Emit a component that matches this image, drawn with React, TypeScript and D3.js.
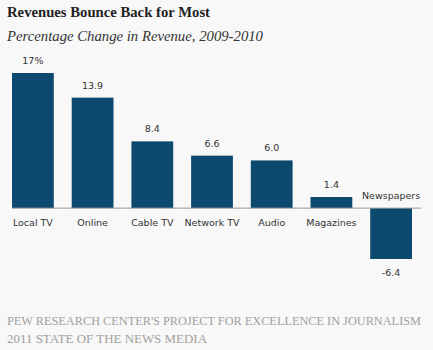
import { useEffect, useRef } from 'react';
import * as d3 from 'd3';

const categories = ['Local TV', 'Online', 'Cable TV', 'Network TV', 'Audio', 'Magazines', 'Newspapers'];
const values = [17, 13.9, 8.4, 6.6, 6.0, 1.4, -6.4];
const valueLabels = ['17%', '13.9', '8.4', '6.6', '6.0', '1.4', '-6.4'];

const width = 433;
const height = 350;

export default function App() {
  const svgRef = useRef<SVGSVGElement>(null);

  useEffect(() => {
    const svg = d3.select(svgRef.current);
    svg.selectAll('*').remove();

    svg.append('rect').attr('width', width).attr('height', height).attr('fill', '#f8f8f8');

    // titulos
    svg.append('text')
      .attr('x', 7).attr('y', 17)
      .attr('font-family', 'Liberation Serif, serif')
      .attr('font-weight', 'bold')
      .attr('font-size', 15)
      .attr('fill', '#222')
      .attr('textLength', 203).attr('lengthAdjust', 'spacingAndGlyphs')
      .text('Revenues Bounce Back for Most');

    svg.append('text')
      .attr('x', 7).attr('y', 41)
      .attr('font-family', 'Liberation Serif, serif')
      .attr('font-style', 'italic')
      .attr('font-size', 15)
      .attr('fill', '#333')
      .attr('textLength', 256).attr('lengthAdjust', 'spacingAndGlyphs')
      .text('Percentage Change in Revenue, 2009-2010');

    const x = d3.scaleBand()
      .domain(categories)
      .range([12, 412])
      .paddingInner(0.3)
      .paddingOuter(0);

    const y = d3.scaleLinear()
      .domain([-6.4, 17])
      .range([259, 73]);

    const g = svg.append('g');

    g.selectAll('.bar')
      .data(values)
      .enter().append('rect')
      .attr('x', (d, i) => x(categories[i])!)
      .attr('y', d => y(Math.max(0, d)))
      .attr('width', x.bandwidth())
      .attr('height', d => Math.abs(y(d) - y(0)))
      .attr('fill', '#0b4a6e');

    // eje
    g.append('line')
      .attr('x1', 12).attr('x2', 421)
      .attr('y1', y(0)).attr('y2', y(0))
      .attr('stroke', '#999')
      .attr('stroke-width', 1);

    const sans = 'DejaVu Sans, Verdana, sans-serif';

    g.selectAll('.val')
      .data(values)
      .enter().append('text')
      .attr('x', (d, i) => x(categories[i])! + x.bandwidth() / 2)
      .attr('y', d => d >= 0 ? y(d) - 9 : y(d) + 17)
      .attr('text-anchor', 'middle')
      .attr('font-family', sans)
      .attr('font-size', 9.5)
      .attr('fill', '#333')
      .text((d, i) => valueLabels[i]);

    g.selectAll('.cat')
      .data(values)
      .enter().append('text')
      .attr('x', (d, i) => x(categories[i])! + x.bandwidth() / 2)
      .attr('y', d => d >= 0 ? y(0) + 18 : y(0) - 9)
      .attr('text-anchor', 'middle')
      .attr('font-family', sans)
      .attr('font-size', 9.5)
      .attr('fill', '#333')
      .text((d, i) => categories[i]);

    // fuente
    const foot = svg.append('g')
      .attr('font-family', 'Liberation Serif, serif')
      .attr('font-size', 12)
      .attr('fill', '#a0a0a0');
    foot.append('text').attr('x', 7).attr('y', 325)
      .attr('textLength', 414).attr('lengthAdjust', 'spacingAndGlyphs')
      .text("PEW RESEARCH CENTER'S PROJECT FOR EXCELLENCE IN JOURNALISM");
    foot.append('text').attr('x', 7).attr('y', 343)
      .attr('textLength', 200).attr('lengthAdjust', 'spacingAndGlyphs')
      .text('2011 STATE OF THE NEWS MEDIA');
  }, []);

  return (
    <svg ref={svgRef} width={width} height={height}
      style={{ position: 'absolute', left: 0, top: 0, display: 'block' }} />
  );
}
